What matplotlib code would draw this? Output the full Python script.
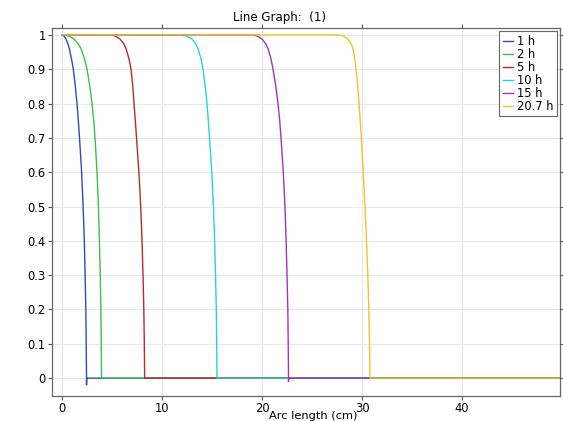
import matplotlib
matplotlib.use("Agg")
import matplotlib.pyplot as plt

labels = ["1 h", "2 h", "5 h", "10 h", "15 h", "20.7 h"]
colors = ["#3347c0", "#3fbf4a", "#b52a2a", "#28d2d8", "#a035b5", "#ecc52a"]

x_1h = [0, 0.2, 0.4, 0.58, 0.73, 0.95, 1.13, 1.33, 1.5, 1.63, 1.75, 1.96, 2.11, 2.23, 2.31, 2.38, 2.42, 2.45, 2.45, 2.47, 50]
y_1h = [1.0, 0.997, 0.988, 0.975, 0.96, 0.93, 0.9, 0.85, 0.8, 0.75, 0.7, 0.6, 0.5, 0.4, 0.3, 0.2, 0.1, 0.0, -0.02, 0.0, 0.0]

x_2h = [0, 0.5, 0.8, 1.2, 1.6, 1.9, 2.25, 2.5, 2.78, 3.0, 3.17, 3.3, 3.5, 3.64, 3.74, 3.82, 3.89, 3.92, 3.95, 50]
y_2h = [1.0, 0.998, 0.995, 0.988, 0.975, 0.96, 0.93, 0.9, 0.85, 0.8, 0.75, 0.7, 0.6, 0.5, 0.4, 0.3, 0.2, 0.1, 0.0, 0.0]

x_5h = [0, 4.8, 5.3, 5.8, 6.15, 6.4, 6.7, 6.9, 7.08, 7.2, 7.33, 7.45, 7.69, 7.87, 8.0, 8.1, 8.18, 8.23, 8.26, 50]
y_5h = [1.0, 1.0, 0.997, 0.988, 0.975, 0.96, 0.93, 0.9, 0.85, 0.8, 0.75, 0.7, 0.6, 0.5, 0.4, 0.3, 0.2, 0.1, 0.0, 0.0]

x_10h = [0, 11.8, 12.4, 13.0, 13.35, 13.6, 13.9, 14.1, 14.32, 14.5, 14.63, 14.75, 14.98, 15.14, 15.26, 15.35, 15.43, 15.47, 15.5, 50]
y_10h = [1.0, 1.0, 0.997, 0.988, 0.975, 0.96, 0.93, 0.9, 0.85, 0.8, 0.75, 0.7, 0.6, 0.5, 0.4, 0.3, 0.2, 0.1, 0.0, 0.0]

x_15h = [0, 19.0, 19.5, 20.0, 20.35, 20.6, 20.9, 21.1, 21.38, 21.6, 21.77, 21.9, 22.13, 22.29, 22.41, 22.5, 22.58, 22.62, 22.65, 22.65, 22.67, 50]
y_15h = [1.0, 1.0, 0.997, 0.988, 0.975, 0.96, 0.93, 0.9, 0.85, 0.8, 0.75, 0.7, 0.6, 0.5, 0.4, 0.3, 0.2, 0.1, 0.0, -0.01, 0.0, 0.0]

x_207h = [0, 27.6, 28.1, 28.6, 28.9, 29.1, 29.28, 29.4, 29.57, 29.7, 29.82, 29.93, 30.12, 30.3, 30.45, 30.58, 30.68, 30.75, 30.8, 50]
y_207h = [1.0, 1.0, 0.997, 0.988, 0.975, 0.96, 0.93, 0.9, 0.85, 0.8, 0.75, 0.7, 0.6, 0.5, 0.4, 0.3, 0.2, 0.1, 0.0, 0.0]

series_x = [x_1h, x_2h, x_5h, x_10h, x_15h, x_207h]
series_y = [y_1h, y_2h, y_5h, y_10h, y_15h, y_207h]

xticks = [0, 10, 20, 30, 40]
yticks = [0, 0.1, 0.2, 0.3, 0.4, 0.5, 0.6, 0.7, 0.8, 0.9, 1]
ytick_labels = ["0", "0.1", "0.2", "0.3", "0.4", "0.5", "0.6", "0.7", "0.8", "0.9", "1"]

fig = plt.figure(figsize=(5.63, 4.21), dpi=100)
ax = fig.add_axes([0.0924, 0.0594, 0.9023, 0.874])

for xs, ys, c, lab in zip(series_x, series_y, colors, labels):
    ax.plot(xs, ys, color=c, lw=1.0, label=lab)

ax.set_xlim(-1.0, 49.8)
ax.set_ylim(-0.052, 1.02)
ax.set_xticks(xticks)
ax.set_xticklabels([str(t) for t in xticks])
ax.set_yticks(yticks)
ax.set_yticklabels(ytick_labels)
ax.grid(True, color="#e8e8e8", lw=0.8)
ax.set_axisbelow(True)
ax.tick_params(labelsize=8.3, length=3, color="#555555", top=True, right=True,
               direction="out", pad=1.5)
for s in ax.spines.values():
    s.set_color("#666666")
    s.set_linewidth(0.9)
ax.set_xlabel("Arc length (cm)", fontsize=8.2)
ax.xaxis.label.set_va("center")
ax.xaxis.set_label_coords(0.515, -0.054)

fig.text(0.497, 0.958, "Line Graph:  (1)", ha="center", va="center", fontsize=8.5)

leg = ax.legend(loc="upper right", fontsize=8.3, handlelength=0.9, handletextpad=0.3,
                borderpad=0.3, labelspacing=0.0, fancybox=False, framealpha=1,
                borderaxespad=0.3)
leg.get_frame().set_edgecolor("#666666")
leg.get_frame().set_linewidth(0.8)

fig.savefig("out.png", dpi=100)
